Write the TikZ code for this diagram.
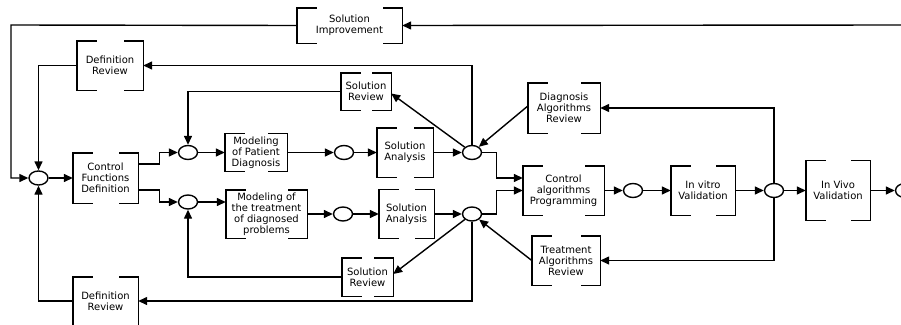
\documentclass[tikz,border=0pt]{standalone}
\usepackage{fontspec}
\setmainfont{DejaVu Sans}
\usetikzlibrary{arrows.meta,shapes.geometric}
\tikzset{
  lw/.style={line width=1.4pt},
  arr/.style={lw,-{Triangle[length=9pt,width=8pt]}},
  bx/.style={inner sep=0pt, align=center, font=\fontsize{10}{11}\selectfont, minimum width=#1},
  jn/.style={ellipse, draw, lw, inner sep=0pt, minimum width=19pt, minimum height=14pt},
  brk/.style={lw, line cap=rect}
}
\newcommand\brk[2][19]{%
  \draw[brk] ([xshift=#1pt]#2.north west) -- (#2.north west) -- (#2.south west) -- ([xshift=#1pt]#2.south west);
  \draw[brk] ([xshift=-#1pt]#2.north east) -- (#2.north east) -- (#2.south east) -- ([xshift=-#1pt]#2.south east);}
\begin{document}
\begin{tikzpicture}[x=1pt,y=-1pt]
\useasboundingbox (0,0) rectangle (901,324);
% boxes
\node[bx=105pt, minimum height=35pt] (si) at (349.5,25.5) {Solution\\Improvement};
\node[bx=66pt, minimum height=49pt] (dr1) at (110,65.5) {Definition\\Review};
\node[bx=50pt, minimum height=37pt] (sr1) at (366,91.5) {Solution\\Review};
\node[bx=72pt, minimum height=50pt] (dar) at (564,108) {Diagnosis\\Algorithms\\Review};
\node[bx=65pt, minimum height=50pt] (cfd) at (105.5,178) {Control\\Functions\\Definition};
\node[bx=62pt, minimum height=38pt] (mpd) at (256,152.5) {Modeling\\of Patient\\Diagnosis};
\node[bx=81pt, minimum height=48pt] (mtd) at (266.5,214) {Modeling of\\the treatment\\of diagnosed\\problems};
\node[bx=56pt, minimum height=49pt] (sa1) at (405,152.5) {Solution\\Analysis};
\node[bx=55pt, minimum height=49pt] (sa2) at (406.5,214) {Solution\\Analysis};
\node[bx=81pt, minimum height=49pt] (cap) at (563.5,190.5) {Control\\algorithms\\Programming};
\node[bx=64pt, minimum height=49pt] (ivv) at (703,190.5) {In vitro\\Validation};
\node[bx=64pt, minimum height=60pt] (viv) at (838,190.5) {In Vivo\\Validation};
\node[bx=68pt, minimum height=49pt] (tar) at (566,260.5) {Treatment\\Algorithms\\Review};
\node[bx=51pt, minimum height=38pt] (sr2) at (367.5,277) {Solution\\Review};
\node[bx=65pt, minimum height=48pt] (dr2) at (105.5,301) {Definition\\Review};
\foreach \n in {si,dr1,sr1,dar,cfd,mpd,mtd,sa1,sa2,cap,ivv,viv,tar,sr2,dr2} {\brk{\n}}
% junctions
\node[jn] (c0) at (38.5,178) {};
\node[jn] (c1) at (188,152.5) {};
\node[jn] (c2) at (188,202) {};
\node[jn] (c3) at (344,152.5) {};
\node[jn] (c4) at (343,214) {};
\node[jn] (c5) at (472,152.5) {};
\node[jn] (c6) at (472,214) {};
\node[jn] (c7) at (633,190.5) {};
\node[jn] (c8) at (774,190.5) {};
\node[jn] (c9) at (905,190.5) {};
\coordinate (re) at (903,25);
% connectors
\draw[arr] (re) -- (si.east);
\draw[arr] (si.west) -- (11,25) |- (c0.west);
\draw[arr] (c5.north) |- (dr1.east);
\draw[arr] (dr1.west) -| (c0.north);
\draw[arr] (c6.south) |- (dr2.east);
\draw[arr] (dr2.west) -| (c0.south);
\draw[arr] (c0.east) -- (cfd.west);
\draw[arr] ([yshift=14pt]cfd.east) -- ++(21,0) |- (c1.west);
\draw[arr] ([yshift=-12pt]cfd.east) -- ++(21,0) |- (c2.west);
\draw[arr] (sr1.west) -| (c1.north);
\draw[arr] (sr2.west) -| (c2.south);
\draw[arr] (c1.east) -- (mpd.west);
\draw[arr] (mpd.east) -- (c3.west);
\draw[arr] (c3.east) -- (sa1.west);
\draw[arr] (sa1.east) -- (c5.west);
\draw[arr] (c2.east) -- (c2.east -| mtd.west);
\draw[arr] (mtd.east) -- (c4.west);
\draw[arr] (c4.east) -- (sa2.west);
\draw[arr] (sa2.east) -- (c6.west);
\draw[arr] (c5) -- ([yshift=-2pt]sr1.east);
\draw[arr] (c6) -- ([yshift=3pt]sr2.east);
\draw[arr] ([yshift=2pt]dar.west) -- (c5);
\draw[arr] (tar.west) -- (c6);
\draw[arr] (c5.east) -- ++(14.5,0) |- ([yshift=12.5pt]cap.west);
\draw[arr] (c6.east) -- ++(14.5,0) |- (cap.west);
\draw[arr] (cap.east) -- (c7.west);
\draw[arr] (c7.east) -- (ivv.west);
\draw[arr] (ivv.east) -- (c8.west);
\draw[arr] (c8.east) -- (viv.west);
\draw[arr] (viv.east) -- (c9.west);
\draw[arr] (c8.north) |- (dar.east);
\draw[arr] (c8.south) |- (tar.east);
\end{tikzpicture}
\end{document}
